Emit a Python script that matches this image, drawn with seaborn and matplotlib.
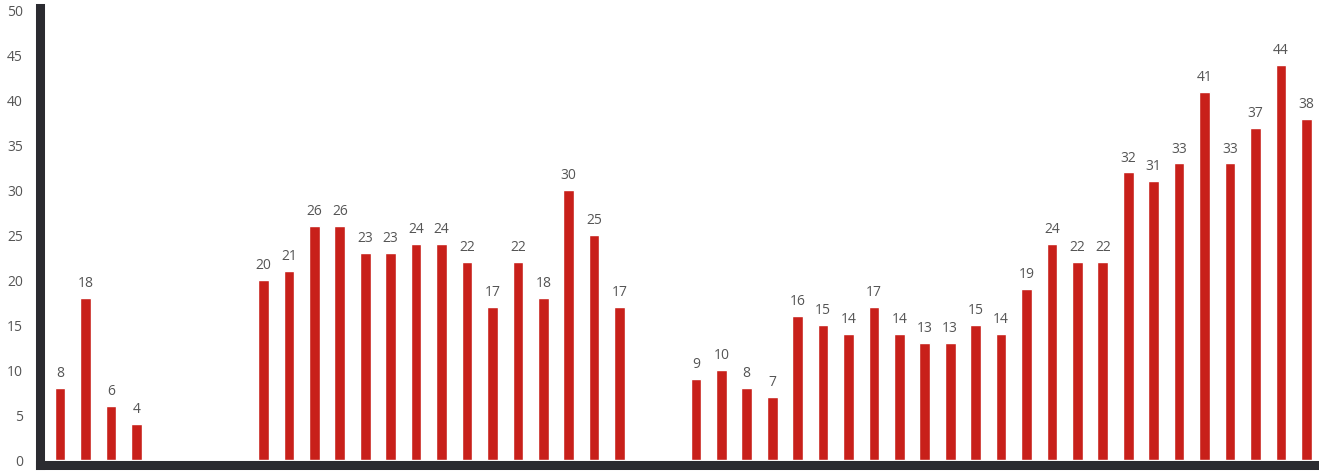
import matplotlib
matplotlib.use("Agg")
import matplotlib.pyplot as plt
import seaborn as sns
import pandas as pd

positions = [0, 1, 2, 3,
             8, 9, 10, 11, 12, 13, 14, 15, 16, 17, 18, 19, 20, 21, 22,
             25, 26, 27, 28, 29, 30, 31, 32, 33, 34, 35, 36, 37, 38, 39, 40, 41,
             42, 43, 44, 45, 46, 47, 48, 49]
values = [8, 18, 6, 4,
          20, 21, 26, 26, 23, 23, 24, 24, 22, 17, 22, 18, 30, 25, 17,
          9, 10, 8, 7, 16, 15, 14, 17, 14, 13, 13, 15, 14, 19, 24, 22, 22,
          32, 31, 33, 41, 33, 37, 44, 38]
y_ticks = [0, 5, 10, 15, 20, 25, 30, 35, 40, 45, 50]

sns.set_style("white")
plt.rcParams['font.family'] = ['Open Sans', 'DejaVu Sans']

df = pd.DataFrame({"pos": positions, "val": values})

fig = plt.figure(figsize=(13.19, 4.74), dpi=100)
ax = fig.add_axes([39.7 / 1319, 9.5 / 474, 1 - 39.7 / 1319, (464.5 - 8) / 474])

sns.barplot(data=df, x="pos", y="val", native_scale=True, color="#C8201A",
            saturation=1, width=0.42, ax=ax, errorbar=None)

ax.set_xlim(-0.8, 49.5)
ax.set_ylim(-0.5, 50.3)
ax.set_yticks(y_ticks)
ax.set_yticklabels([str(t) for t in y_ticks])
ax.set_xticks([])
ax.set_xlabel("")
ax.set_ylabel("")
ax.tick_params(axis="y", length=0, pad=12, labelsize=10, labelcolor="#555555")

for s in ["top", "right"]:
    ax.spines[s].set_visible(False)
for s in ["left", "bottom"]:
    ax.spines[s].set_linewidth(6.5)
    ax.spines[s].set_color("#2B2B30")
    ax.spines[s].set_capstyle("projecting")

ax.bar_label(ax.containers[0], labels=[str(v) for v in values], padding=5,
             fontsize=10, color="#555555")

fig.savefig("out.png", dpi=100)
